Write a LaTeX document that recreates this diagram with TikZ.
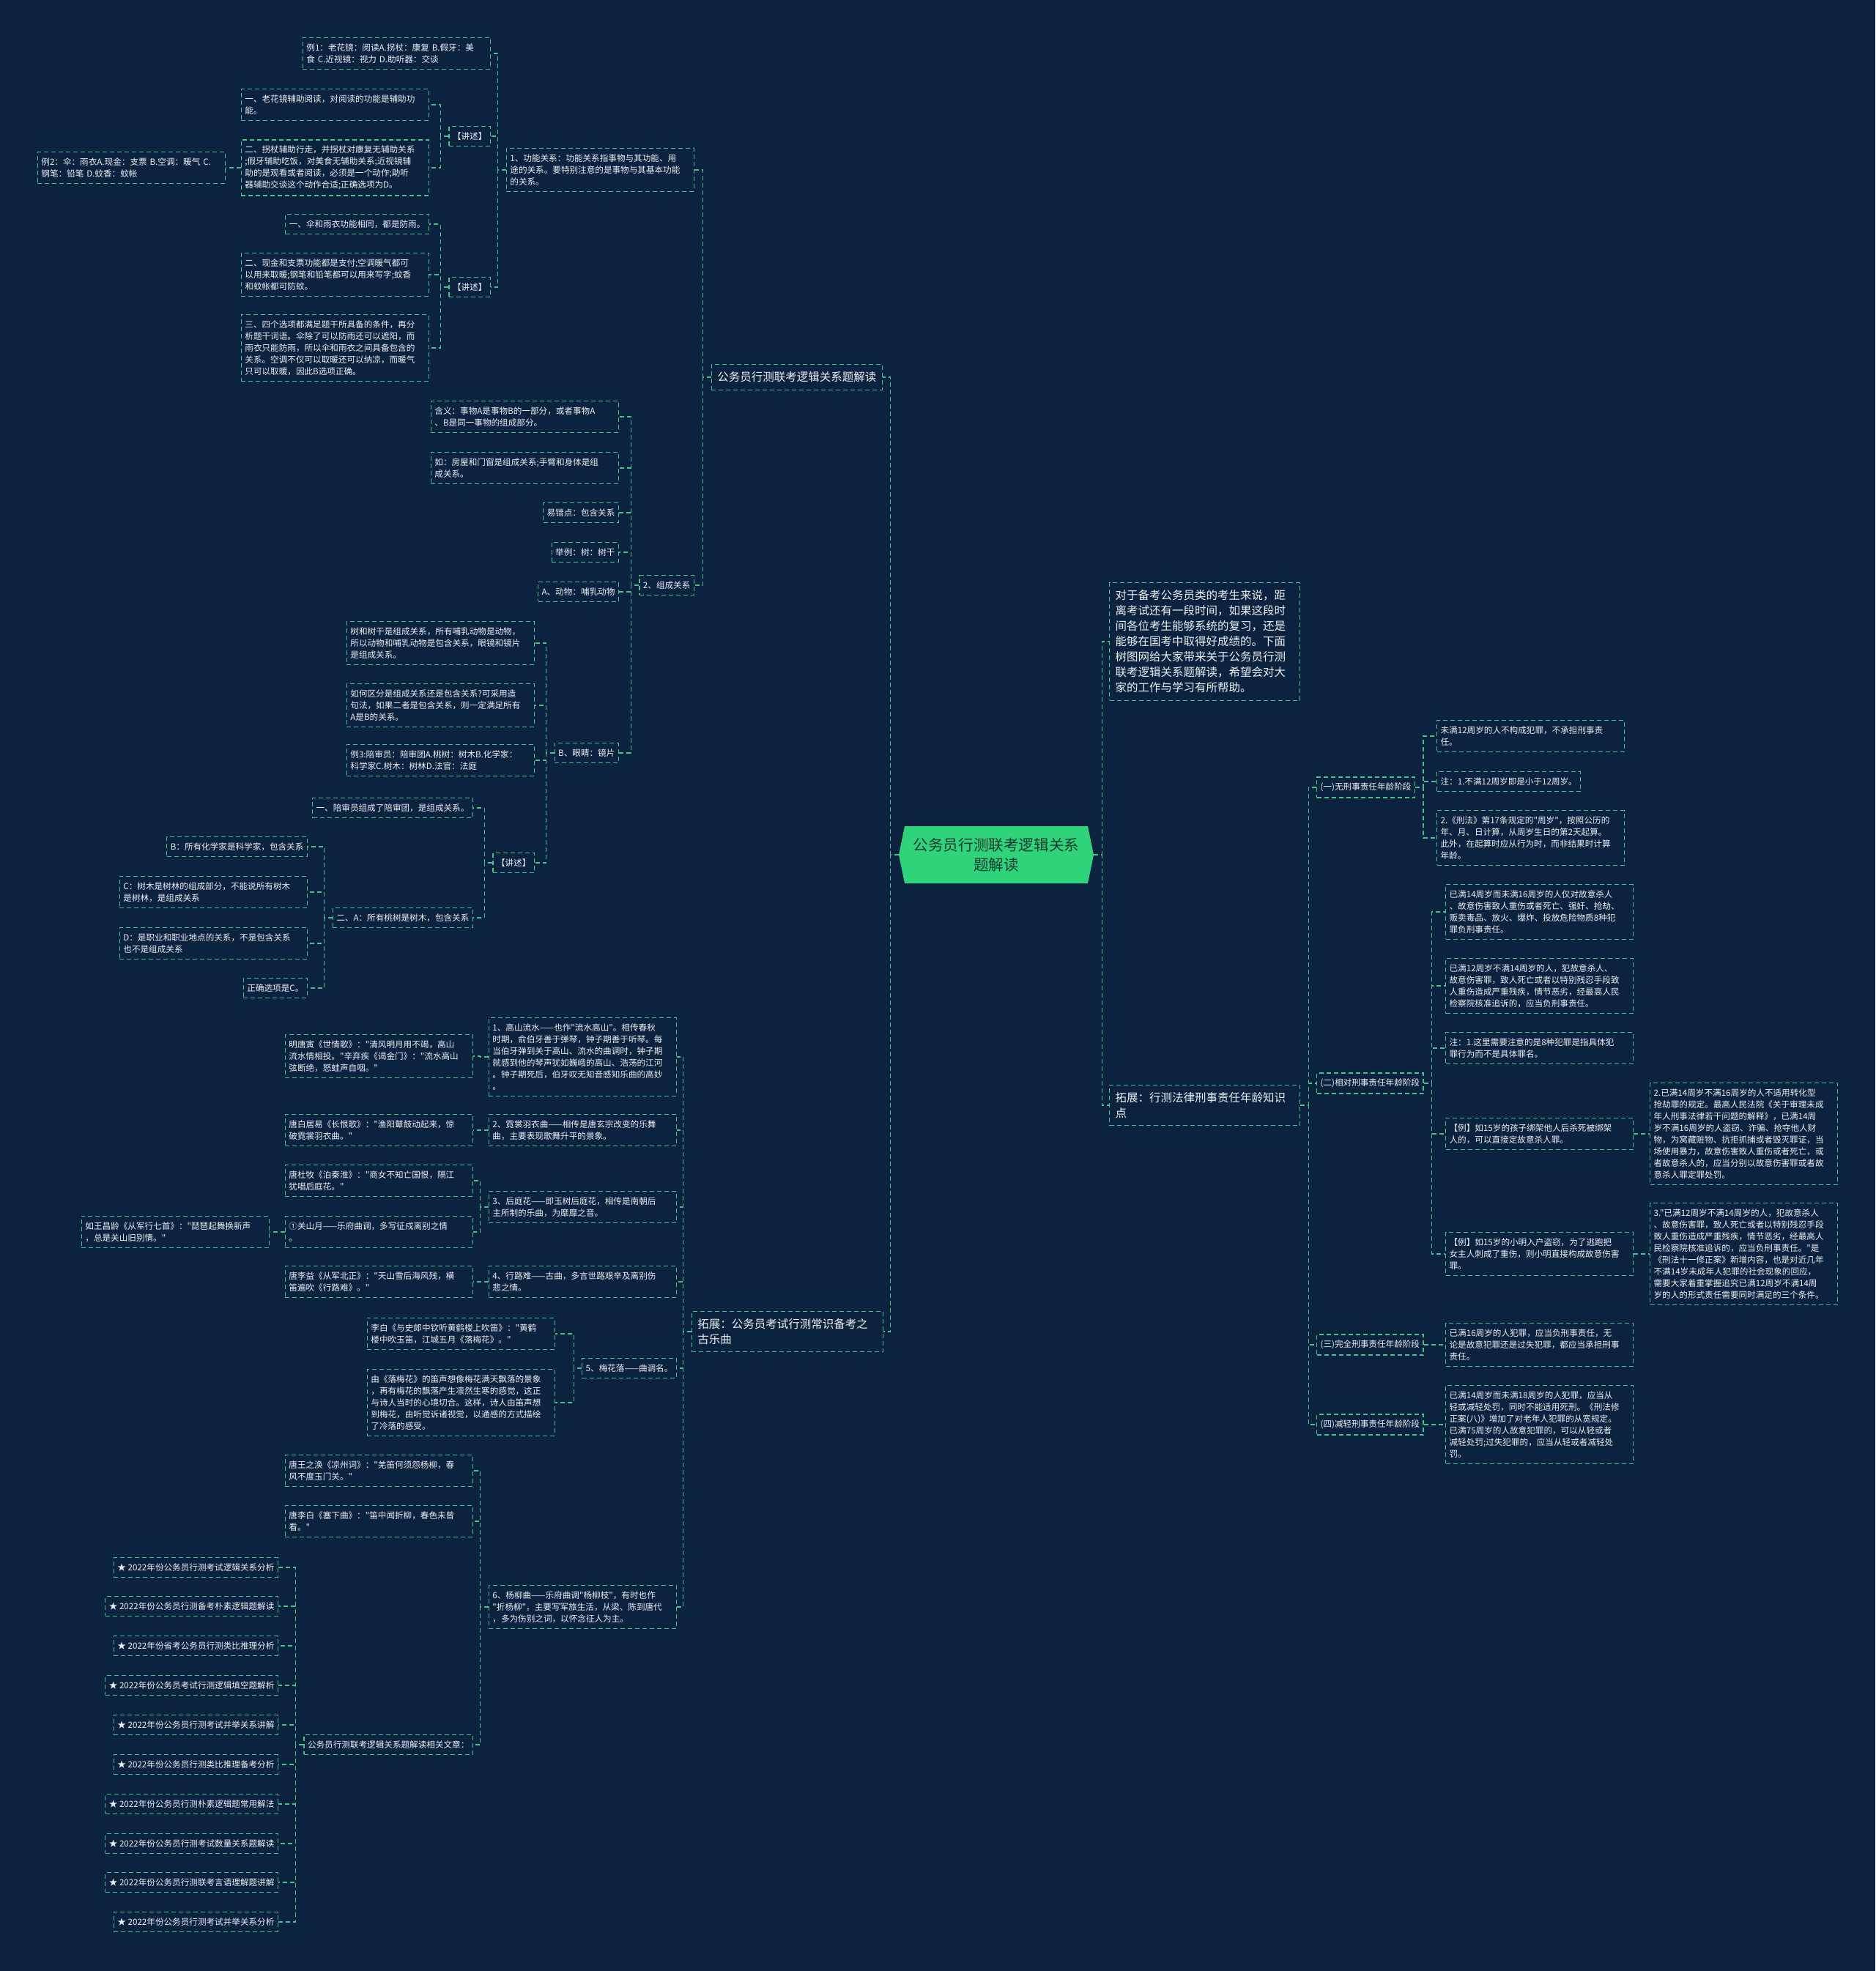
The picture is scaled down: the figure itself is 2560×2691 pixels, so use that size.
\documentclass[tikz,border=0pt]{standalone}
\usepackage{fontspec}
\setmainfont{Noto Sans CJK SC}[Ligatures=TeXOff]
\definecolor{bgc}{RGB}{12,35,64}
\definecolor{edgec}{RGB}{70,196,142}
\definecolor{txtc}{RGB}{236,240,244}
\definecolor{rootc}{RGB}{47,211,122}
\definecolor{roott}{RGB}{28,58,52}
\newcommand\fsm{\fontsize{5.8pt}{8pt}\selectfont}
\newcommand\fbg{\fontsize{7.75pt}{10.5pt}\selectfont}
\newcommand\fct{\fontsize{10.3pt}{13.5pt}\selectfont}
\tikzset{
  bx/.style={draw=edgec, dash pattern=on 3pt off 2pt, line width=0.6pt, text=txtc, font=\fsm, inner xsep=2.5pt, inner ysep=4pt, align=left},
  bxw/.style={bx, text width=#1},
  bigbx/.style={draw=edgec, dash pattern=on 3pt off 2pt, line width=0.6pt, text=txtc, font=\fbg, inner xsep=4pt, inner ysep=5pt, align=left},
  bigw/.style={bigbx, text width=#1},
  conn/.style={draw=edgec, dash pattern=on 3pt off 2pt, line width=0.6pt},
  rootnode/.style={minimum width=133pt, minimum height=39pt, inner sep=0pt, align=center, text=roott, font=\fct},
}
\begin{document}
\begin{tikzpicture}[x=0.5pt, y=-0.5pt]
\fill[bgc] (0,0) rectangle (2560,2691);
\useasboundingbox (0,0) rectangle (2560,2691);

% root
\fill[rootc] (1235,1128) -- (1485,1128) -- (1493,1167) -- (1485,1206) -- (1235,1206) -- (1227,1167) -- cycle;
\node[rootnode] (root) at (1360,1167) {公务员行测联考逻辑关系\\题解读};

% ===== left main branches
\node[bigbx, anchor=east] (a) at (1205,515) {公务员行测联考逻辑关系题解读};
\node[bigw=122.5pt, anchor=east] (b) at (1206,1818) {拓展：公务员考试行测常识备考之\\古乐曲};

% function relation
\node[bxw=123pt, anchor=east] (a1) at (948,232) {1、功能关系：功能关系指事物与其功能、用\\途的关系。要特别注意的是事物与其基本功能\\的关系。};
\node[bxw=123pt, anchor=east] (a1e) at (670,73) {例1：老花镜：阅读A.拐杖：康复 B.假牙：美\\食 C.近视镜：视力 D.助听器：交谈};
\node[bx, anchor=east] (a1j1) at (670,186) {【讲述】};
\node[bx, anchor=east] (a1j2) at (670,392) {【讲述】};
\node[bxw=123pt, anchor=east] (a1j1a) at (586,143) {一、老花镜辅助阅读，对阅读的功能是辅助功\\能。};
\node[bxw=123pt, anchor=east] (a1j1b) at (586,229) {二、拐杖辅助行走，并拐杖对康复无辅助关系\\;假牙辅助吃饭，对美食无辅助关系;近视镜辅\\助的是观看或者阅读，必须是一个动作;助听\\器辅助交谈这个动作合适;正确选项为D。};
\node[bxw=123pt, anchor=east] (a1j1bx) at (308,229) {例2：伞：雨衣A.现金：支票 B.空调：暖气 C.\\钢笔：铅笔 D.蚊香：蚊帐};
\node[bx, anchor=east] (a1j2a) at (586,306) {一、伞和雨衣功能相同，都是防雨。};
\node[bxw=123pt, anchor=east] (a1j2b) at (586,375) {二、现金和支票功能都是支付;空调暖气都可\\以用来取暖;钢笔和铅笔都可以用来写字;蚊香\\和蚊帐都可防蚊。};
\node[bxw=123pt, anchor=east] (a1j2c) at (586,475) {三、四个选项都满足题干所具备的条件，再分\\析题干词语。伞除了可以防雨还可以遮阳，而\\雨衣只能防雨，所以伞和雨衣之间具备包含的\\关系。空调不仅可以取暖还可以纳凉，而暖气\\只可以取暖，因此B选项正确。};

% composition relation
\node[bx, anchor=east] (a2) at (948,799) {2、组成关系};
\node[bxw=123pt, anchor=east] (a2a) at (845,569) {含义：事物A是事物B的一部分，或者事物A\\、B是同一事物的组成部分。};
\node[bxw=123pt, anchor=east] (a2b) at (845,639) {如：房屋和门窗是组成关系;手臂和身体是组\\成关系。};
\node[bx, anchor=east] (a2c) at (845,700) {易错点：包含关系};
\node[bx, anchor=east] (a2d) at (845,754) {举例：树：树干};
\node[bx, anchor=east] (a2e) at (845,808) {A、动物：哺乳动物};
\node[bx, anchor=east] (a2f) at (845,1028) {B、眼睛：镜片};
\node[bxw=123pt, anchor=east] (a2f1) at (730,878) {树和树干是组成关系，所有哺乳动物是动物，\\所以动物和哺乳动物是包含关系，眼镜和镜片\\是组成关系。};
\node[bxw=123pt, anchor=east] (a2f2) at (730,963) {如何区分是组成关系还是包含关系?可采用造\\句法，如果二者是包含关系，则一定满足所有\\A是B的关系。};
\node[bxw=123pt, anchor=east] (a2f3) at (730,1038) {例3:陪审员：陪审团A.桃树：树木B.化学家：\\科学家C.树木：树林D.法官：法庭};
\node[bx, anchor=east] (a2f4) at (730,1178) {【讲述】};
\node[bx, anchor=east] (a2f4a) at (646,1103) {一、陪审员组成了陪审团，是组成关系。};
\node[bx, anchor=east] (a2f4b) at (646,1253) {二、A：所有桃树是树木，包含关系};
\node[bx, anchor=east] (a2f4b1) at (420,1156) {B：所有化学家是科学家，包含关系};
\node[bxw=123pt, anchor=east] (a2f4b2) at (420,1218) {C：树木是树林的组成部分，不能说所有树木\\是树林，是组成关系};
\node[bxw=123pt, anchor=east] (a2f4b3) at (420,1288) {D：是职业和职业地点的关系，不是包含关系\\也不是组成关系};
\node[bx, anchor=east] (a2f4b4) at (420,1349) {正确选项是C。};

% music branch
\node[bxw=123pt, anchor=east] (b1) at (924,1443) {1、高山流水——也作"流水高山"。相传春秋\\时期，俞伯牙善于弹琴，钟子期善于听琴。每\\当伯牙弹到关于高山、流水的曲调时，钟子期\\就感到他的琴声犹如巍峨的高山、浩荡的江河\\。钟子期死后，伯牙叹无知音感知乐曲的高妙\\。};
\node[bxw=123pt, anchor=east] (b1a) at (646,1442) {明唐寅《世情歌》："清风明月用不竭，高山\\流水情相投。"辛弃疾《谒金门》："流水高山\\弦断绝，怒蛙声自咽。"};
\node[bxw=123pt, anchor=east] (b2) at (924,1543) {2、霓裳羽衣曲——相传是唐玄宗改变的乐舞\\曲，主要表现歌舞升平的景象。};
\node[bxw=123pt, anchor=east] (b2a) at (646,1543) {唐白居易《长恨歌》："渔阳鼙鼓动起来，惊\\破霓裳羽衣曲。"};
\node[bxw=123pt, anchor=east] (b3) at (924,1648) {3、后庭花——即玉树后庭花，相传是南朝后\\主所制的乐曲，为靡靡之音。};
\node[bxw=123pt, anchor=east] (b3a) at (646,1612) {唐杜牧《泊秦淮》："商女不知亡国恨，隔江\\犹唱后庭花。"};
\node[bxw=123pt, anchor=east] (b3b) at (646,1682) {①关山月——乐府曲调，多写征戍离别之情\\。};
\node[bxw=123pt, anchor=east] (b3b1) at (368,1682) {如王昌龄《从军行七首》："琵琶起舞换新声\\，总是关山旧别情。"};
\node[bxw=123pt, anchor=east] (b4) at (924,1750) {4、行路难——古曲，多言世路艰辛及离别伤\\悲之情。};
\node[bxw=123pt, anchor=east] (b4a) at (646,1750) {唐李益《从军北正》："天山雪后海风残，横\\笛遍吹《行路难》。"};
\node[bx, anchor=east] (b5) at (924,1868) {5、梅花落——曲调名。};
\node[bxw=123pt, anchor=east] (b5a) at (758,1821) {李白《与史郎中钦听黄鹤楼上吹笛》："黄鹤\\楼中吹玉笛，江城五月《落梅花》。"};
\node[bxw=123pt, anchor=east] (b5b) at (758,1915) {由《落梅花》的笛声想像梅花满天飘落的景象\\，再有梅花的飘落产生凛然生寒的感觉，这正\\与诗人当时的心境切合。这样，诗人由笛声想\\到梅花，由听觉诉诸视觉，以通感的方式描绘\\了冷落的感受。};
\node[bxw=123pt, anchor=east] (b6) at (924,2194) {6、杨柳曲——乐府曲调"杨柳枝"，有时也作\\"折杨柳"，主要写军旅生活，从梁、陈到唐代\\，多为伤别之词，以怀念征人为主。};
\node[bxw=123pt, anchor=east] (b6a) at (646,2008) {唐王之涣《凉州词》："羌笛何须怨杨柳，春\\风不度玉门关。"};
\node[bxw=123pt, anchor=east] (b6b) at (646,2077) {唐李白《塞下曲》："笛中闻折柳，春色未曾\\看。"};
\node[bx, anchor=east] (b6c) at (646,2382) {公务员行测联考逻辑关系题解读相关文章：};
\node[bx, anchor=east] (s1) at (380,2140) {★ 2022年份公务员行测考试逻辑关系分析};
\node[bx, anchor=east] (s2) at (380,2193) {★ 2022年份公务员行测备考朴素逻辑题解读};
\node[bx, anchor=east] (s3) at (380,2247) {★ 2022年份省考公务员行测类比推理分析};
\node[bx, anchor=east] (s4) at (380,2301) {★ 2022年份公务员考试行测逻辑填空题解析};
\node[bx, anchor=east] (s5) at (380,2355) {★ 2022年份公务员行测考试并举关系讲解};
\node[bx, anchor=east] (s6) at (380,2409) {★ 2022年份公务员行测类比推理备考分析};
\node[bx, anchor=east] (s7) at (380,2463) {★ 2022年份公务员行测朴素逻辑题常用解法};
\node[bx, anchor=east] (s8) at (380,2517) {★ 2022年份公务员行测考试数量关系题解读};
\node[bx, anchor=east] (s9) at (380,2570) {★ 2022年份公务员行测联考言语理解题讲解};
\node[bx, anchor=east] (s10) at (380,2624) {★ 2022年份公务员行测考试并举关系分析};

% ===== right side
\node[bigw=122pt, anchor=west] (c) at (1514,876) {对于备考公务员类的考生来说，距\\离考试还有一段时间，如果这段时\\间各位考生能够系统的复习，还是\\能够在国考中取得好成绩的。下面\\树图网给大家带来关于公务员行测\\联考逻辑关系题解读，希望会对大\\家的工作与学习有所帮助。};
\node[bigw=122pt, anchor=west] (d) at (1514,1509) {拓展：行测法律刑事责任年龄知识\\点};
\node[bx, anchor=west] (d1) at (1797,1075) {(一)无刑事责任年龄阶段};
\node[bx, anchor=west] (d2) at (1797,1479) {(二)相对刑事责任年龄阶段};
\node[bx, anchor=west] (d3) at (1797,1836) {(三)完全刑事责任年龄阶段};
\node[bx, anchor=west] (d4) at (1797,1945) {(四)减轻刑事责任年龄阶段};
\node[bxw=123pt, anchor=west] (d1a) at (1961,1005) {未满12周岁的人不构成犯罪，不承担刑事责\\任。};
\node[bx, anchor=west] (d1b) at (1961,1067) {注：1.不满12周岁即是小于12周岁。};
\node[bxw=123pt, anchor=west] (d1c) at (1961,1144) {2.《刑法》第17条规定的"周岁"，按照公历的\\年、月、日计算，从周岁生日的第2天起算。\\此外，在起算时应从行为时，而非结果时计算\\年龄。};
\node[bxw=123pt, anchor=west] (d2a) at (1973,1245) {已满14周岁而未满16周岁的人仅对故意杀人\\、故意伤害致人重伤或者死亡、强奸、抢劫、\\贩卖毒品、放火、爆炸、投放危险物质8种犯\\罪负刑事责任。};
\node[bxw=123pt, anchor=west] (d2b) at (1973,1346) {已满12周岁不满14周岁的人，犯故意杀人、\\故意伤害罪，致人死亡或者以特别残忍手段致\\人重伤造成严重残疾，情节恶劣，经最高人民\\检察院核准追诉的，应当负刑事责任。};
\node[bxw=123pt, anchor=west] (d2c) at (1973,1431) {注：1.这里需要注意的是8种犯罪是指具体犯\\罪行为而不是具体罪名。};
\node[bxw=123pt, anchor=west] (d2d) at (1973,1548) {【例】如15岁的孩子绑架他人后杀死被绑架\\人的，可以直接定故意杀人罪。};
\node[bxw=123pt, anchor=west] (d2e) at (1973,1712) {【例】如15岁的小明入户盗窃，为了逃跑把\\女主人刺成了重伤，则小明直接构成故意伤害\\罪。};
\node[bxw=123pt, anchor=west] (d2d1) at (2252,1548) {2.已满14周岁不满16周岁的人不适用转化型\\抢劫罪的规定。最高人民法院《关于审理未成\\年人刑事法律若干问题的解释》，已满14周\\岁不满16周岁的人盗窃、诈骗、抢夺他人财\\物，为窝藏赃物、抗拒抓捕或者毁灭罪证，当\\场使用暴力，故意伤害致人重伤或者死亡，或\\者故意杀人的，应当分别以故意伤害罪或者故\\意杀人罪定罪处罚。};
\node[bxw=123pt, anchor=west] (d2e1) at (2252,1712) {3."已满12周岁不满14周岁的人，犯故意杀人\\、故意伤害罪，致人死亡或者以特别残忍手段\\致人重伤造成严重残疾，情节恶劣，经最高人\\民检察院核准追诉的，应当负刑事责任。"是\\《刑法十一修正案》新增内容，也是对近几年\\不满14岁未成年人犯罪的社会现象的回应，\\需要大家着重掌握追究已满12周岁不满14周\\岁的人的形式责任需要同时满足的三个条件。};
\node[bxw=123pt, anchor=west] (d3a) at (1973,1836) {已满16周岁的人犯罪，应当负刑事责任，无\\论是故意犯罪还是过失犯罪，都应当承担刑事\\责任。};
\node[bxw=123pt, anchor=west] (d4a) at (1973,1945) {已满14周岁而未满18周岁的人犯罪，应当从\\轻或减轻处罚，同时不能适用死刑。《刑法修\\正案(八)》增加了对老年人犯罪的从宽规定。\\已满75周岁的人故意犯罪的，可以从轻或者\\减轻处罚;过失犯罪的，应当从轻或者减轻处\\罚。};

% ===== connectors (left side)
\foreach \c in {a,b} \draw[conn] (root.west) -- ++(-11,0) |- (\c.east);
\foreach \c in {a1,a2} \draw[conn] (a.west) -- ++(-11,0) |- (\c.east);
\foreach \c in {a1e,a1j1,a1j2} \draw[conn] (a1.west) -- ++(-11,0) |- (\c.east);
\foreach \c in {a1j1a,a1j1b} \draw[conn] (a1j1.west) -- ++(-11,0) |- (\c.east);
\draw[conn] (a1j1b.west) -- ++(-11,0) |- (a1j1bx.east);
\foreach \c in {a1j2a,a1j2b,a1j2c} \draw[conn] (a1j2.west) -- ++(-11,0) |- (\c.east);
\foreach \c in {a2a,a2b,a2c,a2d,a2e,a2f} \draw[conn] (a2.west) -- ++(-11,0) |- (\c.east);
\foreach \c in {a2f1,a2f2,a2f3,a2f4} \draw[conn] (a2f.west) -- ++(-11,0) |- (\c.east);
\foreach \c in {a2f4a,a2f4b} \draw[conn] (a2f4.west) -- ++(-11,0) |- (\c.east);
\foreach \c in {a2f4b1,a2f4b2,a2f4b3,a2f4b4} \draw[conn] (a2f4b.west) -- ++(-11,0) |- (\c.east);
\foreach \c in {b1,b2,b3,b4,b5,b6} \draw[conn] (b.west) -- ++(-11,0) |- (\c.east);
\draw[conn] (b1.west) -- ++(-11,0) |- (b1a.east);
\draw[conn] (b2.west) -- ++(-11,0) |- (b2a.east);
\foreach \c in {b3a,b3b} \draw[conn] (b3.west) -- ++(-11,0) |- (\c.east);
\draw[conn] (b3b.west) -- ++(-11,0) |- (b3b1.east);
\draw[conn] (b4.west) -- ++(-11,0) |- (b4a.east);
\foreach \c in {b5a,b5b} \draw[conn] (b5.west) -- ++(-11,0) |- (\c.east);
\foreach \c in {b6a,b6b,b6c} \draw[conn] (b6.west) -- ++(-11,0) |- (\c.east);
\foreach \c in {s1,s2,s3,s4,s5,s6,s7,s8,s9,s10} \draw[conn] (b6c.west) -- ++(-11,0) |- (\c.east);

% ===== connectors (right side)
\foreach \c in {c,d} \draw[conn] (root.east) -- ++(11,0) |- (\c.west);
\foreach \c in {d1,d2,d3,d4} \draw[conn] (d.east) -- ++(11,0) |- (\c.west);
\foreach \c in {d1a,d1b,d1c} \draw[conn] (d1.east) -- ++(11,0) |- (\c.west);
\foreach \c in {d2a,d2b,d2c,d2d,d2e} \draw[conn] (d2.east) -- ++(11,0) |- (\c.west);
\draw[conn] (d2d.east) -- ++(11,0) |- (d2d1.west);
\draw[conn] (d2e.east) -- ++(11,0) |- (d2e1.west);
\draw[conn] (d3.east) -- ++(11,0) |- (d3a.west);
\draw[conn] (d4.east) -- ++(11,0) |- (d4a.west);
\end{tikzpicture}
\end{document}
